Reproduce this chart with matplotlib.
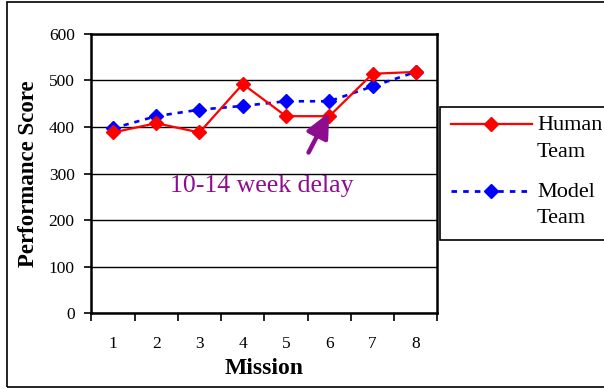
import matplotlib
matplotlib.use("Agg")
import matplotlib.pyplot as plt
from matplotlib.lines import Line2D
from matplotlib.patches import Rectangle

plt.rcParams['font.family'] = ['Liberation Serif', 'DejaVu Serif']

missions = [1, 2, 3, 4, 5, 6, 7, 8]
human_team = [388, 408, 388, 492, 423, 423, 514, 518]
model_team = [397, 423, 437, 445, 455, 455, 487, 518]
y_ticks = [0, 100, 200, 300, 400, 500, 600]

RED = '#FF0000'
BLUE = '#0000FF'
PURPLE = '#8E0C8E'
MS = 7.2

W, H = 604, 389
fig = plt.figure(figsize=(W / 100, H / 100), dpi=100)

def fx(px):
    return px / W

def fy(py):
    return 1 - py / H

ax = fig.add_axes([fx(91.3), fy(313.3), fx(437.5) - fx(91.3), fy(33.7) - fy(313.3)])

ax.plot(missions, human_team, color=RED, lw=1.6, marker='D', ms=MS,
        mec=RED, mfc=RED, zorder=4)
ax.plot(missions, model_team, color=BLUE, lw=1.9, linestyle=(0, (2, 2.2)),
        marker='D', ms=MS, mec=BLUE, mfc=BLUE, zorder=3)

ax.set_xlim(0.5, 8.5)
ax.set_ylim(0, 600)
ax.set_yticks(y_ticks)
ax.set_xticks(missions)
ax.set_xticks([m - 0.5 for m in missions] + [8.5], minor=True)
ax.tick_params(axis='x', which='major', length=0, pad=16, labelsize=12.5)
ax.tick_params(axis='x', which='minor', length=6, width=1.2, direction='out')
ax.tick_params(axis='y', which='major', length=5, width=1.2, pad=7, labelsize=12.5)
ax.yaxis.grid(True, color='black', lw=1.0)
ax.set_axisbelow(True)
for s in ax.spines.values():
    s.set_linewidth(1.8)
    s.set_color('black')

ax.set_xlabel('Mission', fontsize=17, fontweight='bold', labelpad=4.5)
ax.set_ylabel('Performance Score', fontsize=16.5, fontweight='bold', labelpad=7)

# Annotation for the delay between missions
ax.annotate('', xy=(6.0, 431), xytext=(5.52, 345),
            arrowprops=dict(arrowstyle='-|>,head_length=0.75,head_width=0.35',
                            color=PURPLE, lw=3.2, mutation_scale=20,
                            shrinkA=0, shrinkB=0), zorder=6)
ax.text(4.43, 273, '10-14 week delay', color=PURPLE, fontsize=18.5,
        ha='center', va='center', zorder=6)

# Outer chart frame
fig.add_artist(Rectangle((fx(7), fy(387)), fx(620) - fx(7), fy(2) - fy(387),
                         transform=fig.transFigure, fill=False,
                         edgecolor='black', lw=1.2))

# Legend box
fig.add_artist(Rectangle((fx(439.5), fy(240)), fx(640) - fx(439.5), fy(106.7) - fy(240),
                         transform=fig.transFigure, fill=True, facecolor='white',
                         edgecolor='black', lw=1.2, zorder=5))
legend_items = [
    (124, RED, '-', 1.6, 'Human\nTeam'),
    (190.7, BLUE, (0, (2, 2.2)), 2.0, 'Model\nTeam'),
]
for ly, col, ls, lw, label in legend_items:
    fig.add_artist(Line2D([fx(451), fx(532)], [fy(ly), fy(ly)],
                          transform=fig.transFigure, color=col, ls=ls, lw=lw,
                          zorder=6))
    fig.add_artist(Line2D([fx(491)], [fy(ly)], transform=fig.transFigure,
                          marker='D', ms=MS, color=col, ls='none', zorder=7))
    fig.text(fx(537), fy(ly - 8), label, fontsize=16, ha='left', va='top',
             linespacing=1.55, zorder=7)

fig.savefig('out.png', dpi=100)
